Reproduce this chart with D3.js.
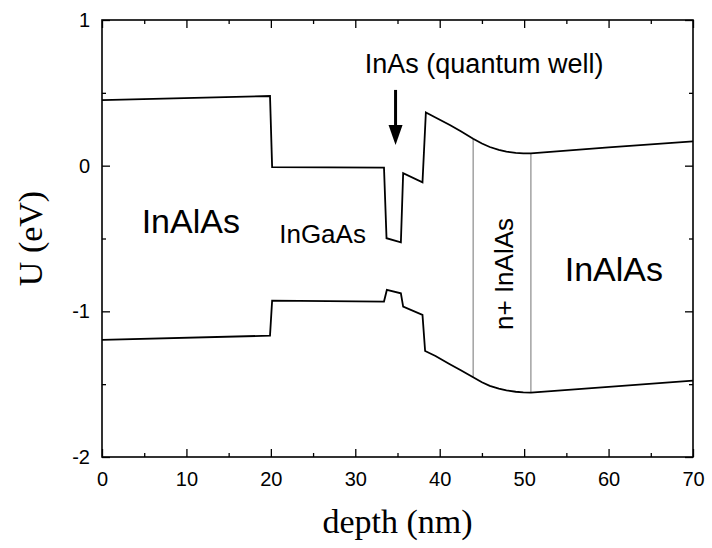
<!DOCTYPE html>
<html>
<head>
<meta charset="utf-8">
<script src="https://cdn.jsdelivr.net/npm/d3@7"></script>
<style>
  body { margin: 0; background: #fff; }
  svg { display: block; }
</style>
</head>
<body>
<svg id="chart"></svg>
<script>
const size = {w: 712, h: 548};
const plot = {l: 102, r: 693, t: 20, b: 457};

// conduction band (top curve)
const cbDepth  = [0, 19.9, 20.15, 33.4, 33.7, 35.4, 35.67, 37.96, 38.36, 39.5, 41.2, 42.5, 43.96, 45, 45.93, 47, 47.9, 49, 49.9, 50.8, 60, 70];
const cbEnergy = [0.45, 0.478, -0.01, -0.013, -0.498, -0.526, -0.052, -0.114, 0.366, 0.331, 0.279, 0.236, 0.185, 0.152, 0.128, 0.108, 0.096, 0.088, 0.085, 0.085, 0.126, 0.167];

// valence band (bottom curve)
const vbDepth  = [0, 19.9, 20.15, 33.4, 33.74, 35.4, 35.67, 37.96, 38.27, 39.5, 41.2, 42.5, 43.96, 45, 45.93, 47, 47.9, 49, 49.9, 50.8, 60, 70];
const vbEnergy = [-1.196, -1.167, -0.927, -0.933, -0.853, -0.876, -0.968, -1.025, -1.272, -1.307, -1.363, -1.404, -1.453, -1.487, -1.512, -1.530, -1.543, -1.552, -1.556, -1.558, -1.518, -1.476];

// n+ layer edges (gray lines between the bands)
const layerEdges = [43.96, 50.8];
const layerTop   = [0.185, 0.085];
const layerBot   = [-1.453, -1.558];

const xTicks = [0, 10, 20, 30, 40, 50, 60, 70];
const xMinor = [5, 15, 25, 35, 45, 55, 65];
const yTicks = [-2, -1, 0, 1];
const yMinor = [-1.5, -0.5, 0.5];

const labels = [
    {text: 'InAlAs', x: 4.7, y: -0.464, size: 34},
    {text: 'InGaAs', x: 20.99, y: -0.533, size: 26},
    {text: 'InAs (quantum well)', x: 31.13, y: 0.634, size: 27},
    {text: 'InAlAs', x: 54.81, y: -0.789, size: 34}
];
const nplusLabel = {text: 'n+ InAlAs', x: 48.69, y: -1.128, size: 26};
const arrow = {x: 34.77, from: 0.52, to: 0.142};

const svg = d3.select('svg#chart')
    .attr('width', size.w)
    .attr('height', size.h);

const x = d3.scaleLinear().domain([0, 70]).range([plot.l, plot.r]);
const y = d3.scaleLinear().domain([-2, 1]).range([plot.b, plot.t]);

const sans = 'Arial, "Liberation Sans", Helvetica, sans-serif';
const serif = '"Times New Roman", "Liberation Serif", Times, serif';
const plain = d => String(d);   // hyphen minus, like the original

// axes (ticks inward on all sides)
function styleAxis(g) {
    g.select('.domain').remove();
    g.selectAll('line').attr('stroke', '#000').attr('stroke-width', 1.3);
    g.selectAll('text').attr('font-family', sans).attr('font-size', 20).attr('fill', '#000');
}

svg.append('g').attr('transform', `translate(0,${plot.b})`)
    .call(d3.axisBottom(x).tickValues(xTicks).tickSize(-8).tickPadding(15).tickFormat(plain))
    .call(styleAxis);
svg.append('g').attr('transform', `translate(0,${plot.b})`)
    .call(d3.axisBottom(x).tickValues(xMinor).tickSize(-4).tickFormat(''))
    .call(styleAxis);
svg.append('g').attr('transform', `translate(0,${plot.t})`)
    .call(d3.axisTop(x).tickValues(xTicks).tickSize(-8).tickFormat(''))
    .call(styleAxis);
svg.append('g').attr('transform', `translate(0,${plot.t})`)
    .call(d3.axisTop(x).tickValues(xMinor).tickSize(-4).tickFormat(''))
    .call(styleAxis);

svg.append('g').attr('transform', `translate(${plot.l},0)`)
    .call(d3.axisLeft(y).tickValues(yTicks).tickSize(-8).tickPadding(12).tickFormat(plain))
    .call(styleAxis);
svg.append('g').attr('transform', `translate(${plot.l},0)`)
    .call(d3.axisLeft(y).tickValues(yMinor).tickSize(-4).tickFormat(''))
    .call(styleAxis);
svg.append('g').attr('transform', `translate(${plot.r},0)`)
    .call(d3.axisRight(y).tickValues(yTicks).tickSize(-8).tickFormat(''))
    .call(styleAxis);
svg.append('g').attr('transform', `translate(${plot.r},0)`)
    .call(d3.axisRight(y).tickValues(yMinor).tickSize(-4).tickFormat(''))
    .call(styleAxis);

// frame
svg.append('rect')
    .attr('x', plot.l).attr('y', plot.t)
    .attr('width', plot.r - plot.l).attr('height', plot.b - plot.t)
    .attr('fill', 'none').attr('stroke', '#000').attr('stroke-width', 1.6);

// gray layer edges
svg.selectAll('line.edge')
    .data(layerEdges)
    .join('line')
    .classed('edge', true)
    .attr('x1', d => x(d)).attr('x2', d => x(d))
    .attr('y1', (d, i) => y(layerTop[i]))
    .attr('y2', (d, i) => y(layerBot[i]))
    .attr('stroke', '#8a8a8a')
    .attr('stroke-width', 1.2);

// bands
const line = d3.line().x(d => x(d[0])).y(d => y(d[1]));
const cb = d3.zip(cbDepth, cbEnergy);
const vb = d3.zip(vbDepth, vbEnergy);

svg.selectAll('path.band')
    .data([cb, vb])
    .join('path')
    .classed('band', true)
    .attr('d', line)
    .attr('fill', 'none')
    .attr('stroke', '#000')
    .attr('stroke-width', 1.8)
    .attr('stroke-linejoin', 'miter');

// labels
svg.selectAll('text.lab')
    .data(labels)
    .join('text')
    .classed('lab', true)
    .attr('x', d => x(d.x))
    .attr('y', d => y(d.y))
    .attr('font-family', sans)
    .attr('font-size', d => d.size)
    .text(d => d.text);

svg.append('text')
    .attr('transform', `translate(${x(nplusLabel.x)},${y(nplusLabel.y)}) rotate(-90)`)
    .attr('font-family', sans)
    .attr('font-size', nplusLabel.size)
    .text(nplusLabel.text);

// arrow
const ax = x(arrow.x), ay0 = y(arrow.from), ay1 = y(arrow.to);
svg.append('line')
    .attr('x1', ax).attr('x2', ax)
    .attr('y1', ay0).attr('y2', ay1 - 16)
    .attr('stroke', '#000').attr('stroke-width', 3);
svg.append('path')
    .attr('d', `M${ax - 7},${ay1 - 20} L${ax + 7},${ay1 - 20} L${ax},${ay1} Z`)
    .attr('fill', '#000');

// axis titles
svg.append('text')
    .attr('x', (plot.l + plot.r) / 2)
    .attr('y', 533)
    .attr('text-anchor', 'middle')
    .attr('font-family', serif)
    .attr('font-size', 34)
    .text('depth (nm)');

svg.append('text')
    .attr('transform', `translate(42,${(plot.t + plot.b) / 2}) rotate(-90)`)
    .attr('text-anchor', 'middle')
    .attr('font-family', serif)
    .attr('font-size', 34)
    .text('U (eV)');
</script>
</body>
</html>
